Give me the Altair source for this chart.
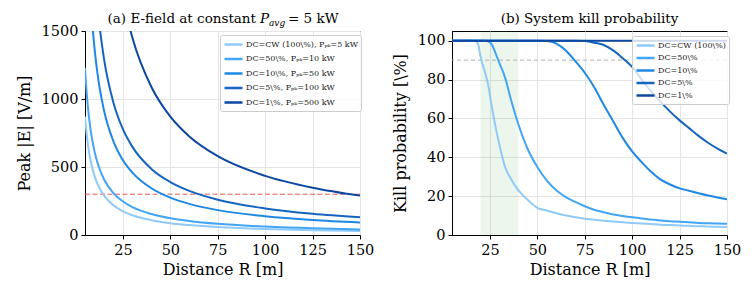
import altair as alt
import pandas as pd

# ---------------- data: panel (a) peak E-field ----------------
R_a = [5, 6, 7, 8, 10, 12, 15, 20, 25, 30, 40, 50, 60, 75, 100, 125, 150]
E_cw = [870, 725, 621, 544, 435, 363, 290, 218, 174, 145, 109, 87, 73, 58, 44, 35, 29]
E_50 = [1230, 1025, 879, 769, 615, 513, 410, 308, 246, 205, 154, 123, 103, 82, 62, 49, 41]
E_10 = [2751, 2293, 1965, 1720, 1376, 1146, 917, 688, 550, 459, 344, 275, 229, 183, 138, 110, 92]
E_5 = [3891, 3242, 2779, 2432, 1945, 1621, 1297, 973, 778, 648, 486, 389, 324, 259, 195, 156, 130]
E_1 = [8700, 7250, 6214, 5438, 4350, 3625, 2900, 2175, 1740, 1450, 1088, 870, 725, 580, 435, 348, 290]
labels_a = [
    "DC=CW (100\\%), P\u209a\u2096=5 kW",
    "DC=50\\%, P\u209a\u2096=10 kW",
    "DC=10\\%, P\u209a\u2096=50 kW",
    "DC=5\\%, P\u209a\u2096=100 kW",
    "DC=1\\%, P\u209a\u2096=500 kW",
]
E_threshold = [300]

# ---------------- data: panel (b) kill probability ----------------
R_b = [5, 10, 15, 17, 18, 19, 20, 22, 24, 26, 28, 30, 33, 36, 40, 45, 50, 55, 60, 65, 70,
       75, 80, 85, 90, 95, 100, 105, 110, 115, 120, 125, 130, 135, 140, 145, 150]
P_cw = [100, 100, 100, 99.9, 99.5, 97.5, 92, 85, 77.6, 66, 55.5, 46.4, 35, 29, 23, 18, 14,
        12.6, 11.2, 10, 9.1, 8.4, 7.8, 7.3, 6.9, 6.5, 6.2, 5.9, 5.6, 5.3, 5.1, 4.9, 4.7, 4.5,
        4.4, 4.2, 4.1]
P_50 = [100, 100, 100, 100, 100, 100, 100, 100, 99.7, 98, 93.5, 88.5, 81, 70, 57, 44, 35,
        28, 23, 19.5, 17, 14.8, 13, 11.7, 10.6, 9.8, 9.1, 8.5, 8, 7.5, 7.1, 6.8, 6.5, 6.2,
        6, 5.9, 5.8]
P_10 = [100, 100, 100, 100, 100, 100, 100, 100, 100, 100, 100, 100, 100, 100, 100, 100, 100,
        99.8, 98.5, 95, 89.5, 83.5, 76, 67, 58.5, 50, 43, 37.5, 32.5, 28.5, 26, 24, 22.8,
        21.5, 20.3, 19.3, 18.4]
P_5 = [100, 100, 100, 100, 100, 100, 100, 100, 100, 100, 100, 100, 100, 100, 100, 100, 100,
       100, 100, 100, 100, 99.8, 99, 97.8, 95, 91, 86.5, 80, 74, 68.5, 63.5, 59, 55, 51,
       47.5, 44.5, 41.9]
P_1 = [100] * len(R_b)
labels_b = ["DC=CW (100\\%)", "DC=50\\%", "DC=10\\%", "DC=5\\%", "DC=1\\%"]
P_threshold = [90]
band_start = [20]
band_end = [40]

colors = ["#90caf9", "#42a5f5", "#1e88e5", "#1565c0", "#0d47a1"]

# ---------------- build tables ----------------
rows = []
for lab, vals in zip(labels_a, [E_cw, E_50, E_10, E_5, E_1]):
    for r, v in zip(R_a, vals):
        rows.append({"R": r, "E": v, "series": lab})
df_a = pd.DataFrame(rows)

rows = []
for lab, vals in zip(labels_b, [P_cw, P_50, P_10, P_5, P_1]):
    for r, v in zip(R_b, vals):
        rows.append({"R": r, "P": v, "series": lab})
df_b = pd.DataFrame(rows)

FONT = "DejaVu Serif"
W, H = 275, 204
xticks = [25, 50, 75, 100, 125, 150]
XDOM = [5, 150]


def leg(lx, ly, row_pad):
    return alt.Legend(
        title=None, orient="none", legendX=lx, legendY=ly,
        fillColor="rgba(255,255,255,0.8)", strokeColor="#cccccc",
        padding=3, cornerRadius=2, labelFont=FONT, labelFontSize=8,
        labelColor="#222222", symbolType="M-1.8,0H1.8", symbolStrokeWidth=2.5,
        symbolSize=100, symbolOffset=4, labelOffset=6, rowPadding=row_pad,
        labelLimit=300,
    )


x_a = alt.X("R:Q", scale=alt.Scale(domain=XDOM, nice=False, zero=False, padding=0),
            axis=alt.Axis(values=xticks, title="Distance R [m]", format="d"))

lines_a = alt.Chart(df_a).mark_line(clip=True, strokeWidth=2, interpolate="monotone").encode(
    x=x_a,
    y=alt.Y("E:Q", scale=alt.Scale(domain=[0, 1500], nice=False, padding=0),
            axis=alt.Axis(values=[0, 250, 500, 750, 1000, 1250, 1500],
                          title="Peak |E| [V/m]", format="d")),
    color=alt.Color("series:N", scale=alt.Scale(domain=labels_a, range=colors),
                    sort=labels_a, legend=leg(135, 4, 2.5)),
)
thr_a = alt.Chart(pd.DataFrame({"thr": E_threshold})).mark_rule(
    color="#e8474a", strokeDash=[5, 2.5], strokeWidth=1, opacity=0.9
).encode(y="thr:Q")


def title_parts(parts):
    layers = []
    for txt, xpos, ypos, size, style, align in parts:
        layers.append(
            alt.Chart(pd.DataFrame({"t": [txt]})).mark_text(
                font=FONT, fontSize=size, fontStyle=style, align=align,
                baseline="alphabetic", color="black"
            ).encode(x=alt.value(xpos), y=alt.value(ypos), text="t:N")
        )
    return layers


title_a = title_parts([
    ("(a) E-field at constant", 171, -8, 13.5, "normal", "right"),
    ("P", 175, -8, 13.5, "italic", "left"),
    ("avg", 184, -5, 9, "italic", "left"),
    ("= 5 kW", 203, -8, 13.5, "normal", "left"),
])

panel_a = alt.layer(thr_a, lines_a, *title_a).properties(width=W, height=H)

x_b = alt.X("R:Q", scale=alt.Scale(domain=XDOM, nice=False, zero=False, padding=0),
            axis=alt.Axis(values=xticks, title="Distance R [m]", format="d"))

band = alt.Chart(pd.DataFrame({"a": band_start, "b": band_end})).mark_rect(
    color="#2ca02c", opacity=0.09
).encode(x=alt.X("a:Q", scale=alt.Scale(domain=XDOM, nice=False, zero=False, padding=0)),
         x2="b:Q", y=alt.value(0), y2=alt.value(H))

lines_b = alt.Chart(df_b).mark_line(clip=True, strokeWidth=2, interpolate="monotone").encode(
    x=x_b,
    y=alt.Y("P:Q", scale=alt.Scale(domain=[0, 105], nice=False, padding=0),
            axis=alt.Axis(values=[0, 20, 40, 60, 80, 100], title="Kill probability [\\%]",
                          format="d")),
    color=alt.Color("series:N", scale=alt.Scale(domain=labels_b, range=colors),
                    sort=labels_b, legend=leg(180, 5, 0.5)),
)
thr_b = alt.Chart(pd.DataFrame({"thr": P_threshold})).mark_rule(
    color="#aaaaaa", strokeDash=[4, 3], strokeWidth=0.9
).encode(y="thr:Q")

title_b = title_parts([
    ("(b) System kill probability", W / 2, -8, 13.5, "normal", "center"),
])

panel_b = alt.layer(band, thr_b, lines_b, *title_b).properties(width=W, height=H)

chart = (
    alt.hconcat(panel_a, panel_b, spacing=16)
    .resolve_scale(color="independent")
    .properties(padding={"left": 7, "right": 2, "top": 3, "bottom": 2}, background="white")
    .configure_view(stroke="black", strokeWidth=1)
    .configure_axis(
        domainColor="black", domainWidth=1, tickColor="black", tickSize=4,
        tickWidth=1, gridColor="#e4e4e4", gridWidth=1,
        labelFont=FONT, labelFontSize=14.5, labelColor="black", labelPadding=3,
        labelFlush=False, titleFont=FONT, titleFontSize=16,
        titleFontWeight="normal", titleColor="black",
    )
    .configure_axisY(titlePadding=9)
    .configure_axisX(titlePadding=5, labelPadding=4)
)

chart.save("out.html", embed_options={"renderer": "svg", "actions": False})
